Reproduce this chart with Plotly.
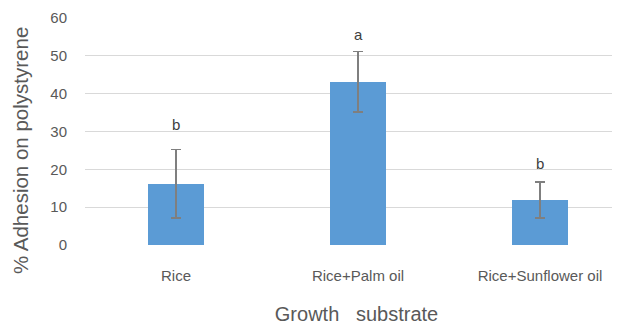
import plotly.graph_objects as go

categories = ["Rice", "Rice+Palm oil", "Rice+Sunflower oil"]
adhesion = [16.2, 43.1, 11.9]
error = [9.0, 8.0, 4.7]
letters = ["b", "a", "b"]
letter_y = [31.8, 55.6, 21.5]
y_ticks = [0, 10, 20, 30, 40, 50, 60]

FONT = "Liberation Sans, Arial, sans-serif"
GREY = "#595959"

# page body has an 8px default margin; compensate in plot margins
OFF = 8
L, T = 85 - OFF, 18 - OFF
B = 324 - (245 - OFF)
PLOT_W = 620 - L
PLOT_H = 324 - T - B

fig = go.Figure()
fig.add_trace(go.Bar(
    x=list(range(len(categories))),
    y=adhesion,
    width=0.311,
    marker=dict(color="#5B9BD5", line=dict(width=0)),
    error_y=dict(type="data", array=error, visible=True,
                 color="#7F7F7F", thickness=1.5, width=5),
    showlegend=False,
))

for i, (lab, ly) in enumerate(zip(letters, letter_y)):
    fig.add_annotation(x=i, y=ly, text=lab, showarrow=False,
                       font=dict(family=FONT, size=15, color="#404040"),
                       xref="x", yref="y")

fig.add_annotation(text="% Adhesion on polystyrene", textangle=-90,
                   xref="paper", yref="paper",
                   x=-(L - (20 - OFF)) / PLOT_W,
                   y=(245 - 151) / PLOT_H, xanchor="center", yanchor="middle",
                   showarrow=False,
                   font=dict(family=FONT, size=20.5, color=GREY))

fig.update_layout(
    width=620, height=324,
    margin=dict(l=L, r=0, t=T, b=B, autoexpand=False),
    paper_bgcolor="white", plot_bgcolor="white",
    bargap=0,
    xaxis=dict(
        range=[-0.5, -0.5 + PLOT_W / 182],
        tickmode="array", tickvals=list(range(len(categories))),
        ticktext=categories, showgrid=False, zeroline=False,
        showline=False, ticks="",
        ticklabelstandoff=20,
        tickfont=dict(family=FONT, size=15, color=GREY),
        title=dict(text="Growth\u00a0\u00a0 substrate", standoff=23,
                   font=dict(family=FONT, size=20, color=GREY)),
    ),
    yaxis=dict(
        range=[0, 60], tickvals=y_ticks,
        showgrid=True, gridcolor="#D9D9D9", gridwidth=1.2,
        zeroline=False, showline=False, ticks="",
        ticklabelstandoff=17,
        tickfont=dict(family=FONT, size=15, color=GREY),
    ),
)

fig.write_html("out.html")
